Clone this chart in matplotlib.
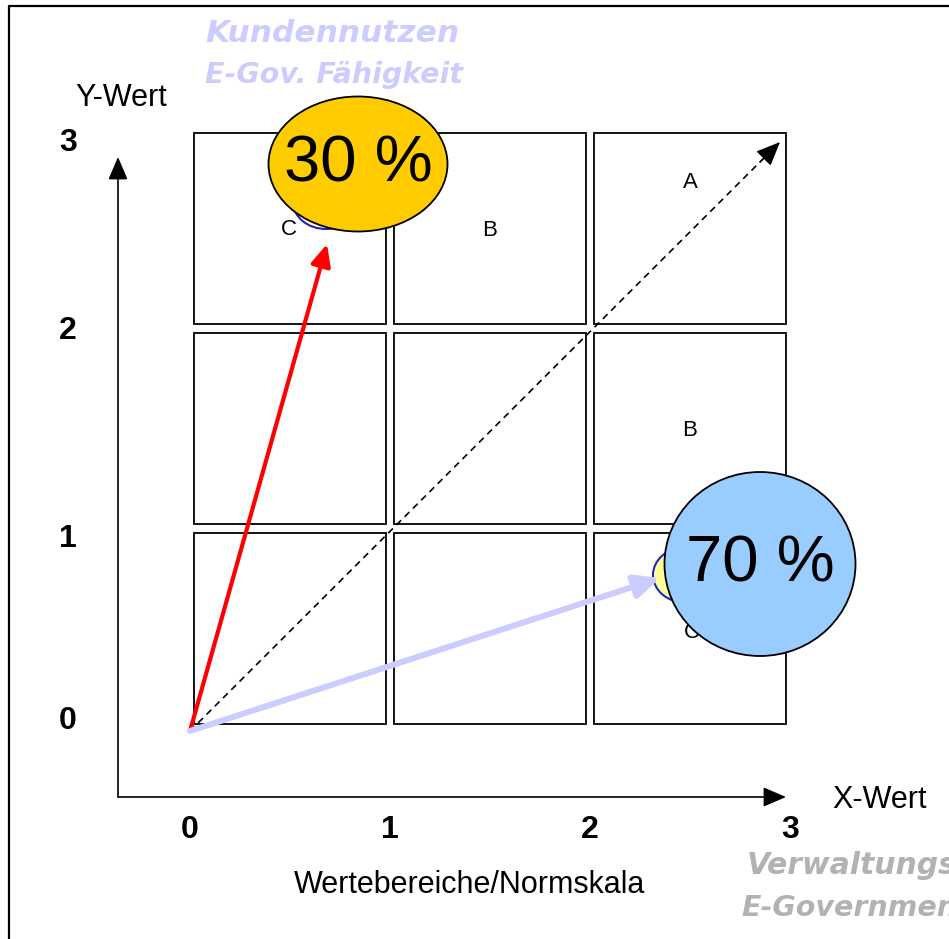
import matplotlib
matplotlib.use("Agg")
import matplotlib.pyplot as plt
from matplotlib.patches import Rectangle, Ellipse, FancyArrowPatch

# one grid step = one value unit (0..3 on both scales)
GRID_N = 3
CELL_GAP_X = (0.02, 0.98)
CELL_GAP_Y = (0.035, 0.99)

X_TICKS = [0, 1, 2, 3]
X_TICK_LABELS = ["0", "1", "2", "3"]
Y_TICK_POS = [0.05, 0.96, 2.0, 2.94]
Y_TICK_LABELS = ["0", "1", "2", "3"]

# letters inside the cells
CELL_X = [0.495, 1.5, 2.5, 2.5, 2.51]
CELL_Y = [2.51, 2.505, 2.745, 1.505, 0.495]
CELL_TXT = ["C", "B", "A", "B", "C"]

# the two vectors from the origin
VEC_X = [0.685, 2.35]
VEC_Y = [2.435, 0.765]
VEC_COL = ["#ff0000", "#ccccff"]
DIAG_END = (2.95, 2.945)

# bubbles: small (behind) and big with percentages
SMALL_X = [0.68, 2.475]
SMALL_Y = [2.645, 0.78]
SMALL_W = [0.33, 0.32]
SMALL_H = [0.27, 0.275]
BIG_X = [0.84, 2.85]
BIG_Y = [2.835, 0.835]
BIG_W = [0.895, 0.955]
BIG_H = [0.675, 0.92]
BIG_COL = ["#ffcc00", "#99ccff"]
BIG_TXT = ["30 %", "70 %"]

ARIAL = "Liberation Sans"

fig = plt.figure(figsize=(9.49, 9.39), dpi=100)
ax = fig.add_axes([0, 0, 1, 1])
ax.set_xlim(-0.95, 3.795)
ax.set_ylim(-1.04, 3.655)
ax.axis("off")

# outer frame (left + top only visible)
ax.plot([-0.905, -0.905, 3.8], [-1.04, 3.625, 3.625], color="black", lw=1.6,
        solid_capstyle="butt", clip_on=False)

# 3x3 grid of cells
for i in range(GRID_N):
    for j in range(GRID_N):
        x0, x1 = i + CELL_GAP_X[0], i + CELL_GAP_X[1]
        y0, y1 = j + CELL_GAP_Y[0], j + CELL_GAP_Y[1]
        ax.add_patch(Rectangle((x0, y0), x1 - x0, y1 - y0, fill=False,
                               ec="black", lw=1.3, zorder=2))

for x, y, s in zip(CELL_X, CELL_Y, CELL_TXT):
    ax.text(x, y, s, fontsize=16, family=ARIAL, ha="center", va="center", zorder=3)

# coordinate axes with arrows
ax.add_patch(FancyArrowPatch((-0.36, -0.33), (-0.36, 2.87), arrowstyle="-|>,head_length=0.7,head_width=0.3",
                             mutation_scale=20, color="black", lw=1.2, shrinkA=0, shrinkB=0))
ax.add_patch(FancyArrowPatch((-0.36, -0.33), (2.98, -0.33), arrowstyle="-|>,head_length=0.7,head_width=0.3",
                             mutation_scale=20, color="black", lw=1.2, shrinkA=0, shrinkB=0))

for xt, lab in zip(X_TICKS, X_TICK_LABELS):
    ax.text(xt, -0.495, lab, fontsize=23, fontweight="bold", family=ARIAL, ha="center", va="center")
for yt, lab in zip(Y_TICK_POS, Y_TICK_LABELS):
    ax.text(-0.61, yt, lab, fontsize=23, fontweight="bold", family=ARIAL, ha="center", va="center")

ax.text(-0.345, 3.165, "Y-Wert", fontsize=22, family=ARIAL, ha="center", va="center")
ax.text(3.45, -0.345, "X-Wert", fontsize=22, family=ARIAL, ha="center", va="center")
ax.text(1.4, -0.77, "Wertebereiche/Normskala", fontsize=22, family=ARIAL, ha="center", va="center")

# dashed diagonal
tip = DIAG_END
ax.plot([0, tip[0] - 0.08], [0, tip[1] - 0.08], color="black", lw=1.2, ls=(0, (4, 3)), zorder=4)
ax.add_patch(FancyArrowPatch((tip[0] - 0.1, tip[1] - 0.1), tip, arrowstyle="-|>,head_length=0.75,head_width=0.32",
                             mutation_scale=20, color="black", lw=1.0, shrinkA=0, shrinkB=0, zorder=4))

# small bubbles behind
for x, y, w, h in zip(SMALL_X, SMALL_Y, SMALL_W, SMALL_H):
    ax.add_patch(Ellipse((x, y), w, h, fc="#ffff99", ec="#2222cc", lw=1.5, zorder=5))

# vectors
ax.add_patch(FancyArrowPatch((0, 0), (VEC_X[0], VEC_Y[0]), arrowstyle="-|>,head_length=0.65,head_width=0.3",
                             mutation_scale=20, color=VEC_COL[0], lw=3.0, shrinkA=0, shrinkB=0, zorder=6))
ax.add_patch(FancyArrowPatch((0, 0), (VEC_X[1], VEC_Y[1]), arrowstyle="-|>,head_length=0.75,head_width=0.35",
                             mutation_scale=20, color=VEC_COL[1], lw=4.3, shrinkA=0, shrinkB=0, zorder=6))

# big bubbles
for x, y, w, h, c, s in zip(BIG_X, BIG_Y, BIG_W, BIG_H, BIG_COL, BIG_TXT):
    ax.add_patch(Ellipse((x, y), w, h, fc=c, ec="black", lw=1.3, zorder=7))
    ax.text(x, y, s, fontsize=47, family=ARIAL, ha="center", va="center", zorder=8)

# corner captions (the lower-right pair runs off the page as in the original)
cap = dict(fontweight="bold", style="italic", family="DejaVu Sans", ha="left", va="center")
ax.text(0.075, 3.49, "Kundennutzen", color="#ccccff", fontsize=22.5, **cap)
ax.text(0.075, 3.28, "E-Gov. Fähigkeit", color="#ccccff", fontsize=20.5, **cap)
ax.text(2.785, -0.675, "Verwaltungsnutzen", color="#b2b2b2", fontsize=21.5, **cap)
ax.text(2.755, -0.885, "E-Government", color="#b2b2b2", fontsize=20.5, **cap)

fig.savefig("out.png", dpi=100)
